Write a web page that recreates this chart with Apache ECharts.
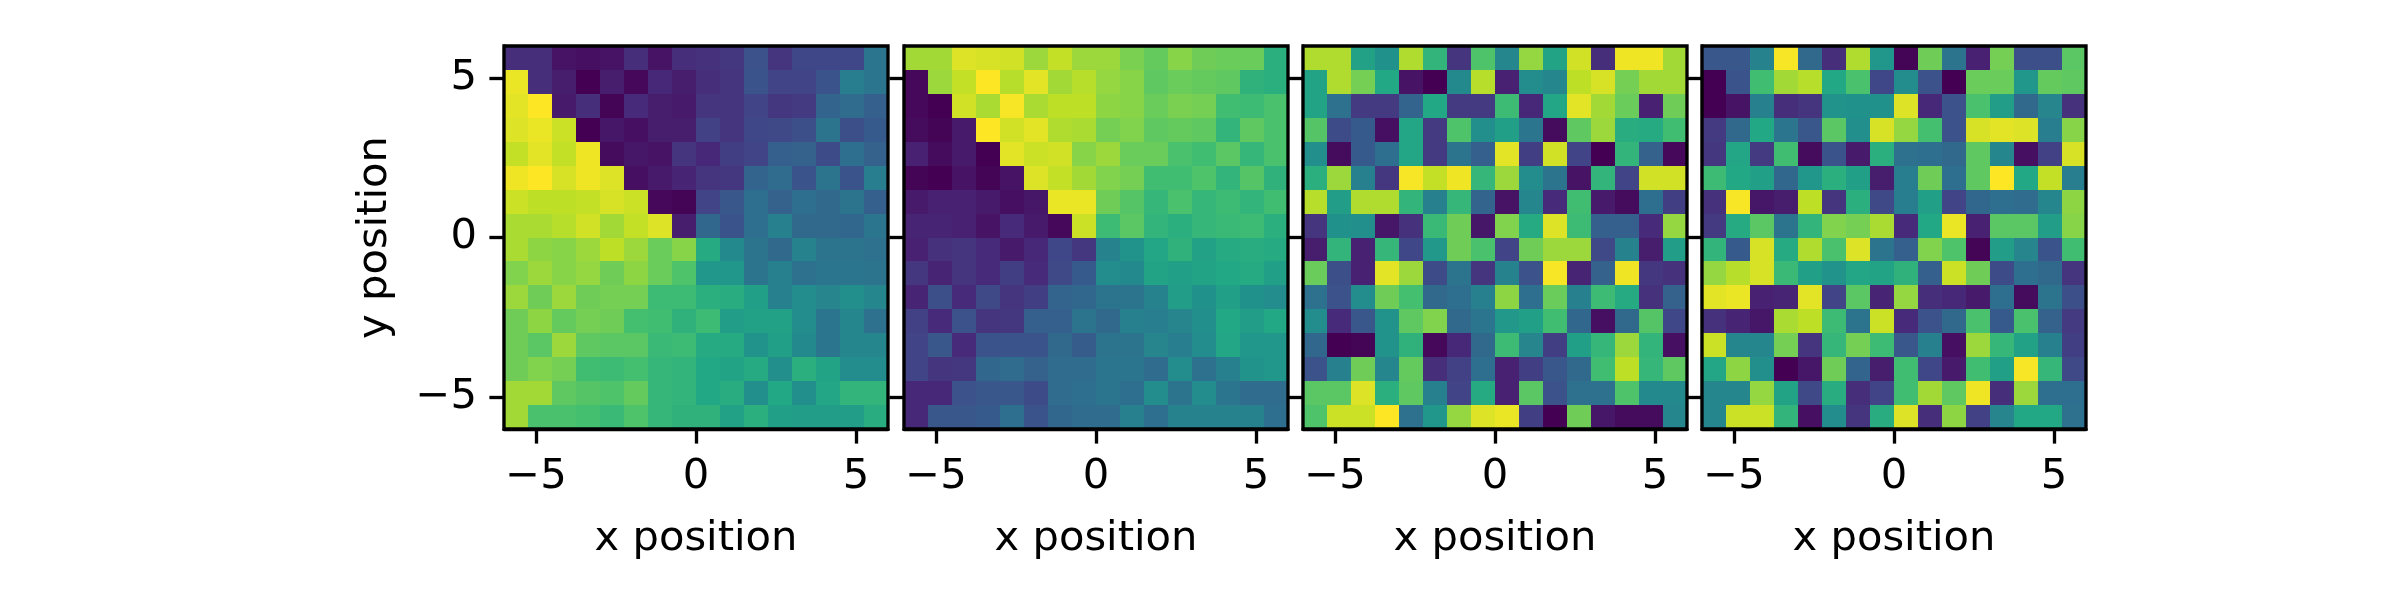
<!DOCTYPE html>
<html>
<head>
<meta charset="utf-8">
<style>
  html, body { margin: 0; padding: 0; background: #fff; }
  #chart { width: 2400px; height: 600px; }
</style>
<script src="https://cdn.jsdelivr.net/npm/echarts@6/dist/echarts.min.js"></script>
</head>
<body>
<div id="chart"></div>
<script>
// cell centres of the 16x16 grid, rows run top to bottom
const xCenters = [-5.625, -4.875, -4.125, -3.375, -2.625, -1.875, -1.125, -0.375, 0.375, 1.125, 1.875, 2.625, 3.375, 4.125, 4.875, 5.625]
const yCenters = [5.625, 4.875, 4.125, 3.375, 2.625, 1.875, 1.125, 0.375, -0.375, -1.125, -1.875, -2.625, -3.375, -4.125, -4.875, -5.625]
const tickValues = [-5, 0, 5]

const panel1 = [
  [13,13,5,4,5,13,5,13,14,16,25,15,21,21,21,39],
  [97,13,8,0,8,2,11,8,13,15,26,20,20,26,42,39],
  [96,100,7,13,1,12,8,7,15,15,20,16,17,32,35,30],
  [95,97,92,0,6,4,8,8,19,15,21,22,24,38,24,28],
  [91,96,91,98,3,6,5,15,11,18,20,30,31,23,36,31],
  [98,100,94,98,95,4,7,10,15,16,32,35,26,38,26,42],
  [92,90,90,91,94,92,2,1,20,27,36,31,36,34,38,30],
  [87,87,89,93,86,91,95,8,33,26,36,43,34,34,33,39],
  [87,83,82,85,90,85,77,82,61,47,38,34,44,38,38,37],
  [81,85,82,84,78,83,77,72,52,52,38,43,37,39,39,38],
  [85,78,85,78,79,79,68,68,63,62,56,43,48,45,49,46],
  [78,83,76,79,78,70,69,64,68,55,57,57,48,39,46,37],
  [78,74,85,75,74,74,67,68,61,61,51,56,47,39,46,46],
  [78,81,79,69,68,70,66,65,60,58,61,49,63,58,48,48],
  [86,86,75,73,72,76,66,65,60,62,49,60,49,59,65,65],
  [86,71,71,70,67,72,66,64,64,57,63,56,55,55,55,62]
]
const panel2 = [
  [86,86,95,94,93,85,91,85,85,80,76,82,78,77,77,63],
  [2,85,91,100,89,96,86,89,84,82,75,77,76,75,64,63],
  [2,0,93,87,99,87,90,90,83,82,77,80,79,69,68,71],
  [3,1,7,100,93,96,88,87,79,81,75,76,75,65,75,71],
  [9,3,7,0,96,92,93,82,85,77,77,71,69,74,66,71],
  [1,0,5,1,5,95,91,86,81,79,69,69,72,65,73,64],
  [7,9,9,7,4,6,97,97,78,73,66,71,66,68,65,69],
  [10,10,9,5,12,7,2,92,68,74,65,63,66,67,68,63],
  [9,14,15,12,7,11,21,16,44,51,59,64,57,61,62,61],
  [16,10,15,12,18,12,22,28,48,47,58,56,58,60,61,56],
  [10,24,12,22,15,18,32,33,38,38,44,55,50,56,50,48],
  [19,12,25,15,16,30,30,38,34,43,42,45,49,60,55,60],
  [20,27,12,26,26,26,34,29,38,38,45,42,48,59,52,52],
  [20,15,16,33,35,31,35,35,39,39,35,48,37,43,51,52],
  [11,11,25,27,27,23,35,36,39,36,48,38,48,39,35,35],
  [11,27,27,28,36,26,33,35,35,43,36,44,44,44,44,36]
]
const panel3 = [
  [88,88,57,50,88,65,15,72,46,84,58,93,13,98,98,86],
  [58,88,79,60,5,0,47,89,9,48,46,90,94,79,86,86],
  [58,37,17,17,32,60,17,17,68,11,59,96,86,77,9,78],
  [73,23,28,4,59,17,72,49,56,39,3,75,85,62,61,69],
  [49,3,28,36,59,17,38,30,96,18,93,20,0,65,31,2],
  [63,85,43,16,99,91,98,66,85,48,38,5,65,20,93,93],
  [89,55,88,88,65,43,66,32,5,46,12,69,7,3,36,18],
  [15,50,49,6,14,67,78,6,81,61,95,68,30,30,12,84],
  [8,65,9,66,21,53,78,71,20,78,85,85,22,44,8,55],
  [77,24,9,96,85,23,38,15,44,25,99,10,31,98,16,14],
  [37,25,48,78,70,34,36,43,83,36,77,43,68,61,14,31],
  [48,12,27,51,75,81,34,39,53,56,69,33,4,34,73,21],
  [33,0,1,51,64,2,11,34,68,45,18,56,66,85,65,4],
  [25,43,78,46,76,13,19,36,9,18,27,34,69,90,66,75],
  [74,74,95,63,75,43,20,61,9,74,25,37,37,72,47,47],
  [72,92,92,100,37,52,84,95,97,18,0,78,6,3,3,46]
]
const panel4 = [
  [27,27,44,99,34,13,88,52,1,78,38,9,79,24,24,74],
  [0,26,69,86,89,60,71,21,48,25,0,77,77,52,76,75],
  [0,5,43,13,15,51,50,50,95,11,25,71,55,34,45,14],
  [17,34,60,39,27,74,49,94,84,70,25,94,96,95,42,82],
  [16,59,17,69,3,26,7,63,37,36,34,75,46,4,19,94],
  [68,60,56,33,52,63,56,8,42,78,36,75,100,60,91,42],
  [14,99,6,8,90,15,63,22,42,56,20,33,36,35,46,83],
  [17,61,74,38,65,81,79,87,12,60,97,9,74,74,55,82],
  [65,28,94,61,88,71,95,38,30,81,72,1,55,45,26,69],
  [84,89,94,67,56,51,59,58,64,30,92,78,23,36,34,15],
  [96,97,9,10,96,20,74,10,84,13,11,7,36,3,38,24],
  [14,10,6,87,90,68,38,92,12,25,34,71,28,71,31,17],
  [92,46,46,79,15,66,79,68,27,43,4,85,66,57,43,18],
  [59,83,49,0,6,78,32,8,69,21,7,69,56,99,66,22],
  [46,46,84,58,22,62,13,20,69,86,75,98,13,85,36,36],
  [46,92,92,65,4,48,15,62,95,13,83,19,45,60,60,37]
]

const panels = [panel1, panel2, panel3, panel4]
const panelLefts = [504, 904, 1303, 1702]
const viridis = ['#440154', '#482475', '#414487', '#355f8d', '#2a788e', '#21918c', '#22a884', '#44bf70', '#7ad151', '#bddf26', '#fde725']

const fontFamily = '"DejaVu Sans"'
const fontSize = 41.67
const lineW = 3.33
const halfCell = 0.375

const fmtTick = v => String(v).replace('-', '\u2212')

const renderCell = (params, api) => {
  const a = api.coord([api.value(0) - halfCell, api.value(1) + halfCell])
  const b = api.coord([api.value(0) + halfCell, api.value(1) - halfCell])
  const x = Math.round(a[0])
  const y = Math.round(a[1])
  return {
    type: 'rect',
    shape: { x, y, width: Math.round(b[0]) - x, height: Math.round(b[1]) - y },
    style: { fill: api.visual('color') }
  }
}

const baseAxis = {
  type: 'value',
  min: -6,
  max: 6,
  nameLocation: 'middle',
  nameTextStyle: { color: '#000', fontFamily, fontSize },
  splitLine: { show: false },
  axisLine: { show: true, onZero: false, lineStyle: { color: '#000', width: lineW } },
  axisTick: { show: true, length: 14.6, customValues: tickValues, lineStyle: { color: '#000', width: lineW } },
  axisLabel: { show: true, customValues: tickValues, formatter: fmtTick, color: '#000', fontFamily, fontSize, margin: 27 }
}

const chart = echarts.init(document.getElementById('chart'))

chart.setOption({
  animation: false,
  backgroundColor: '#fff',
  visualMap: { show: false, type: 'continuous', dimension: 2, min: 0, max: 100, inRange: { color: viridis } },
  grid: panelLefts.map(left => ({
    show: true,
    z: 10,
    left,
    top: 46,
    width: 384,
    height: 383,
    backgroundColor: 'transparent',
    borderColor: '#000',
    borderWidth: lineW
  })),
  xAxis: panels.map((p, i) => ({ ...baseAxis, gridIndex: i, name: 'x position', nameGap: 89 })),
  yAxis: panels.map((p, i) => ({
    ...baseAxis,
    gridIndex: i,
    name: i === 0 ? 'y position' : '',
    nameGap: 108,
    axisLabel: { ...baseAxis.axisLabel, show: i === 0, padding: [5, 0, 0, 0] }
  })),
  series: panels.map((rows, i) => ({
    type: 'custom',
    xAxisIndex: i,
    yAxisIndex: i,
    renderItem: renderCell,
    data: rows.flatMap((row, r) => row.map((v, c) => [xCenters[c], yCenters[r], v]))
  }))
})
</script>
</body>
</html>
